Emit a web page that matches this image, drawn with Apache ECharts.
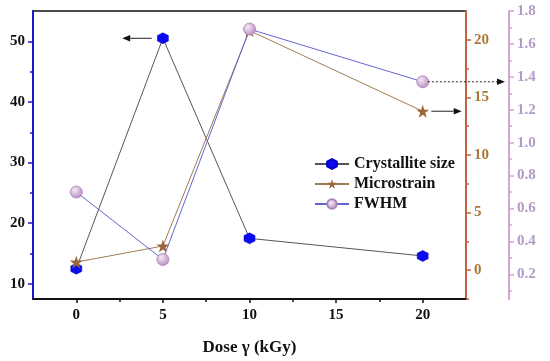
<!DOCTYPE html>
<html><head><meta charset="utf-8">
<script src="https://cdn.jsdelivr.net/npm/echarts@6/dist/echarts.min.js"></script>
<style>html,body{margin:0;padding:0;background:#fff}#c{width:550px;height:361px}</style>
</head><body><div id="c"></div>
<script>
const doses = [0, 5, 10, 20];
const crystalliteSize = [12.5, 50.5, 17.5, 14.6];
const microstrain = [0.7, 2.1, 20.8, 13.8];
const fwhm = [0.70, 0.29, 1.69, 1.37];
const xMajor = [0, 5, 10, 15, 20];
const xMinor = [2.5, 7.5, 12.5, 17.5];
const sizeMajor = [10, 20, 30, 40, 50];
const sizeMinor = [15, 25, 35, 45];
const strainMajor = [0, 5, 10, 15, 20];
const strainMinor = [-2.5, 2.5, 7.5, 12.5, 17.5];
const fwhmMajor = [0.2, 0.4, 0.6, 0.8, 1.0, 1.2, 1.4, 1.6, 1.8];
const fwhmMinor = [0.1, 0.3, 0.5, 0.7, 0.9, 1.1, 1.3, 1.5, 1.7];

const FONT = 'Liberation Serif';
const chart = echarts.init(document.getElementById('c'));
const pair = a => a.map((v, i) => [doses[i], v]);
const hex = 'path://M50,0 L93.3,25 L93.3,75 L50,100 L6.7,75 L6.7,25 Z';
const star = 'path://M50,0 L61.8,35.4 L99,35.4 L69,57.3 L80.4,92.7 L50,70.8 L19.6,92.7 L31,57.3 L1,35.4 L38.2,35.4 Z';

function yAx(pos, offset, min, max, color, labelColor, major, minor, fmt) {
  return [{
    type: 'value', position: pos, offset: offset, min: min, max: max,
    splitLine: {show: false},
    axisLine: {show: true, onZero: false, lineStyle: {color: color, width: 2}},
    axisTick: {show: true, inside: false, length: 5, customValues: major, lineStyle: {color: color, width: 1.5}},
    axisLabel: {customValues: major, color: labelColor, fontFamily: FONT, fontWeight: 'bold', fontSize: 15, margin: 8, formatter: fmt},
  }, {
    type: 'value', position: pos, offset: offset, min: min, max: max,
    splitLine: {show: false},
    axisLine: {show: false, onZero: false},
    axisTick: {show: true, inside: false, length: 3, customValues: minor, lineStyle: {color: color, width: 1.5}},
    axisLabel: {show: false},
  }];
}
const yl = yAx('left', 0, 7.5, 55, '#1a1acc', '#111', sizeMajor, sizeMinor, v => String(v));
const yr = yAx('right', 0, -2.5, 22.5, '#c4643e', '#a8783a', strainMajor, strainMinor, v => String(v));
const yp = yAx('right', 43, 0.05, 1.8, '#d4a4d8', '#b49ac6', fwhmMajor, fwhmMinor, v => v.toFixed(1));

chart.setOption({
  animation: false,
  grid: {left: 33, right: 84, top: 11, bottom: 60, show: true, borderColor: '#111', borderWidth: 1.5},
  xAxis: [{
    type: 'value', min: -2.5, max: 22.5, position: 'bottom',
    name: 'Dose γ (kGy)', nameLocation: 'middle', nameGap: 40,
    nameTextStyle: {fontFamily: FONT, fontWeight: 'bold', fontSize: 17, color: '#111'},
    splitLine: {show: false},
    axisLine: {show: true, onZero: false, lineStyle: {color: '#111', width: 2}},
    axisTick: {show: true, length: 4, customValues: xMajor, lineStyle: {color: '#111', width: 1.5}},
    axisLabel: {customValues: xMajor, color: '#111', fontFamily: FONT, fontWeight: 'bold', fontSize: 15, margin: 9},
  }, {
    type: 'value', min: -2.5, max: 22.5, position: 'bottom',
    splitLine: {show: false}, axisLine: {show: false, onZero: false},
    axisTick: {show: true, length: 3, customValues: xMinor, lineStyle: {color: '#111', width: 1.5}},
    axisLabel: {show: false},
  }],
  yAxis: [yl[0], yr[0], yp[0], yl[1], yr[1], yp[1]],
  legend: {
    orient: 'vertical', left: 309, top: 151, itemGap: 4, itemWidth: 34, itemHeight: 12,
    textStyle: {fontFamily: FONT, fontWeight: 'bold', fontSize: 16, color: '#111'},
    data: ['Crystallite size', 'Microstrain', 'FWHM'],
  },
  series: [{
    name: 'Crystallite size', type: 'line', yAxisIndex: 0, data: pair(crystalliteSize),
    symbol: hex, symbolSize: 11,
    lineStyle: {color: '#555', width: 1},
    itemStyle: {color: '#0a0af0', borderColor: '#0000c8', borderWidth: 0.5},
  }, {
    name: 'Microstrain', type: 'line', yAxisIndex: 1, data: pair(microstrain),
    symbol: star, symbolSize: 13,
    lineStyle: {color: '#a07a52', width: 1},
    itemStyle: {color: '#9a6838', borderWidth: 0},
  }, {
    name: 'FWHM', type: 'line', yAxisIndex: 2, data: pair(fwhm),
    symbol: 'circle', symbolSize: 12,
    lineStyle: {color: '#6464d4', width: 1},
    itemStyle: {
      color: {type: 'radial', x: 0.38, y: 0.35, r: 0.7, colorStops: [{offset: 0, color: '#f6eaf6'}, {offset: 1, color: '#b488c0'}]},
      borderColor: '#a884b0', borderWidth: 0.8
    },
  }]
});

function arrow(x1, y1, x2, y2, dashed) {
  const ang = Math.atan2(y2 - y1, x2 - x1), L = 8, W = 3.2;
  const bx = x2 - L * Math.cos(ang), by = y2 - L * Math.sin(ang);
  const px = -Math.sin(ang) * W, py = Math.cos(ang) * W;
  return [{
    type: 'line', shape: {x1: x1, y1: y1, x2: bx, y2: by},
    style: {stroke: '#222', lineWidth: 1, lineDash: dashed ? [2, 2] : null}, z: 100
  }, {
    type: 'polygon', shape: {points: [[x2, y2], [bx + px, by + py], [bx - px, by - py]]},
    style: {fill: '#111'}, z: 100
  }];
}
const p1a = chart.convertToPixel({xAxisIndex: 0, yAxisIndex: 0}, [4.35, crystalliteSize[1]]);
const p1b = chart.convertToPixel({xAxisIndex: 0, yAxisIndex: 0}, [2.65, crystalliteSize[1]]);
const p2a = chart.convertToPixel({xAxisIndex: 0, yAxisIndex: 1}, [20.5, microstrain[3]]);
const p2b = chart.convertToPixel({xAxisIndex: 0, yAxisIndex: 1}, [22.25, microstrain[3]]);
const p3a = chart.convertToPixel({xAxisIndex: 0, yAxisIndex: 2}, [20.3, fwhm[3]]);
const p3b = chart.convertToPixel({xAxisIndex: 0, yAxisIndex: 2}, [24.75, fwhm[3]]);
chart.setOption({graphic: [
  ...arrow(p1a[0], p1a[1], p1b[0], p1b[1], false),
  ...arrow(p2a[0], p2a[1], p2b[0], p2b[1], false),
  ...arrow(p3a[0], p3a[1], p3b[0], p3b[1], true),
]});
</script></body></html>
